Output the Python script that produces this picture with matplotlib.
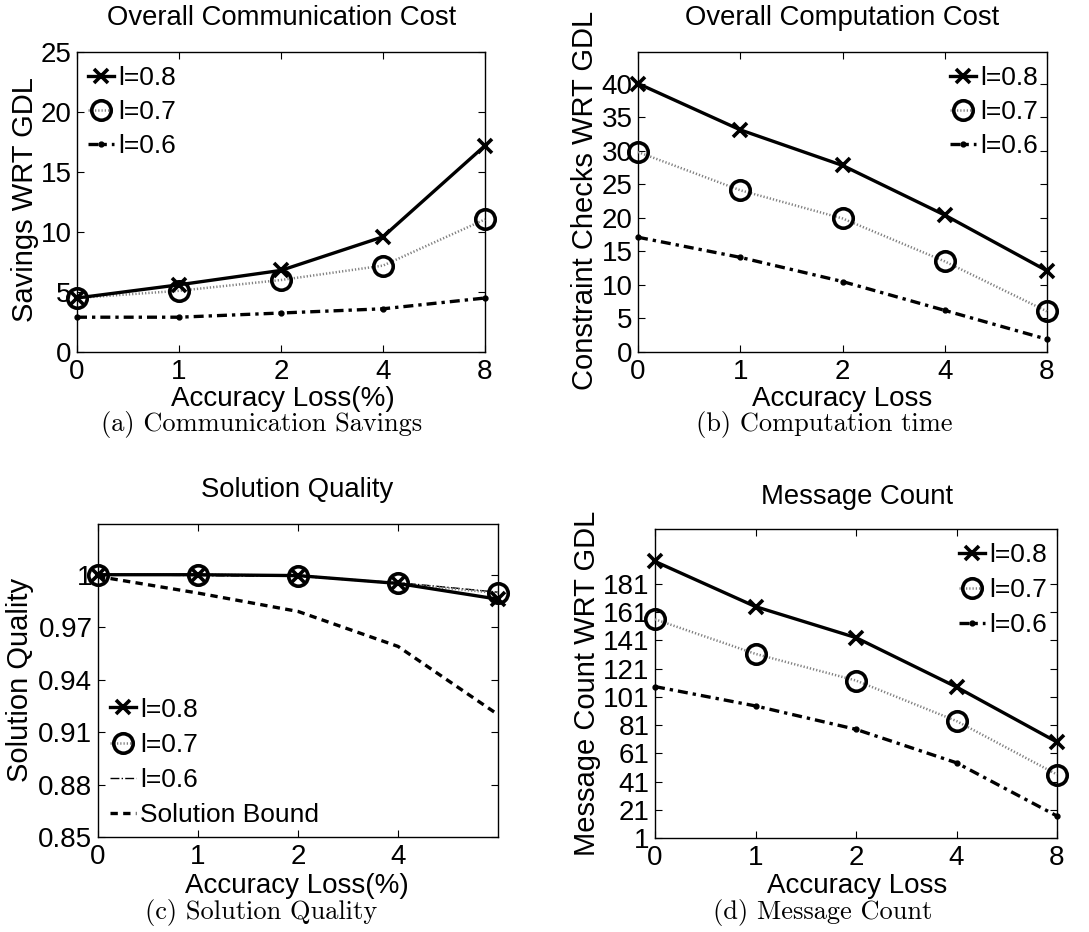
import matplotlib
matplotlib.use("Agg")
import matplotlib.pyplot as plt

W, H = 1089, 932
SANS = "Liberation Sans"

# shared x categories (accuracy loss)
x_pos = [0, 1, 2, 4, 8]
x_idx = list(range(len(x_pos)))

# (a) communication savings
comm_08 = [4.5, 5.6, 6.8, 9.6, 17.2]
comm_07 = [4.5, 5.1, 6.0, 7.2, 11.05]
comm_06 = [2.9, 2.9, 3.25, 3.6, 4.5]

# (b) constraint checks
comp_08 = [40.0, 33.1, 27.8, 20.4, 12.1]
comp_07 = [29.8, 24.1, 19.9, 13.5, 6.05]
comp_06 = [17.1, 14.1, 10.5, 6.2, 1.9]

# (c) solution quality
qual_08 = [1.0, 1.0, 0.9995, 0.995, 0.986]
qual_07 = [1.0, 1.0, 0.9995, 0.995, 0.9895]
qual_06 = [1.0, 0.9995, 0.999, 0.9955, 0.990]
qual_bound = [0.999, 0.9895, 0.979, 0.959, 0.920]

# (d) message count
msg_08 = [197, 165, 143, 108, 69]
msg_07 = [156, 131.5, 112.6, 83.9, 46]
msg_06 = [108.3, 94.6, 78, 54.3, 16.6]

fig = plt.figure(figsize=(W / 100, H / 100), dpi=100)
fig.patch.set_facecolor("white")


def px_axes(l, r, t, b):
    return fig.add_axes([l / W, (H - b) / H, (r - l) / W, (b - t) / H])


def style(ax):
    ax.tick_params(direction="in", length=5, width=0.8, top=True, right=True,
                   labelsize=20)
    ax.tick_params(axis="x", pad=5)
    ax.tick_params(axis="y", pad=4)
    for lab in ax.get_xticklabels() + ax.get_yticklabels():
        lab.set_fontfamily(SANS)
    for s in ax.spines.values():
        s.set_linewidth(1.0)


def three_lines(ax, y8, y7, y6, thin6=False):
    ax.plot(x_idx, y8, color="black", lw=2.4, marker="x", ms=10, mew=2.6,
            label="l=0.8", clip_on=False, zorder=4)
    ax.plot(x_idx, y7, color="0.5", lw=1.8, ls=(0, (0.5, 0.8)), marker="o",
            ms=14, mew=2.6, mec="black", mfc="none", label="l=0.7",
            clip_on=False, zorder=3)
    if thin6:
        ax.plot(x_idx, y6, color="black", lw=1.0, ls="-.", label="l=0.6",
                clip_on=False, zorder=2)
    else:
        ax.plot(x_idx, y6, color="black", lw=2.4, ls=(0, (3, 1.5, 1, 1.5)),
                marker="o", ms=3.5, label="l=0.6", clip_on=False, zorder=2)


def legend(ax, loc, anchor, spacing=0.38):
    return ax.legend(loc=loc, bbox_to_anchor=anchor, frameon=False, numpoints=1,
                     handlelength=1.0, handletextpad=0.15, labelspacing=spacing,
                     borderaxespad=0.0, borderpad=0.0,
                     prop={"family": SANS, "size": 19})


def texts(cx_title, y_title, title, cx_xl, y_xl, xlabel, x_yl, cy_yl, ylabel,
          cx_cap, y_cap, cap):
    fig.text(cx_title / W, 1 - y_title / H, title, ha="center", va="center",
             fontsize=19.8, family=SANS)
    fig.text(cx_xl / W, 1 - y_xl / H, xlabel, ha="center", va="center",
             fontsize=20, family=SANS)
    fig.text(x_yl / W, 1 - cy_yl / H, ylabel, ha="center", va="center",
             fontsize=21, family=SANS, rotation=90)
    fig.text(cx_cap / W, 1 - y_cap / H, cap, ha="center", va="center",
             fontsize=19, fontname="cmr10")


# (a)
ax = px_axes(77, 485, 52, 352)
three_lines(ax, comm_08, comm_07, comm_06)
ax.set_xlim(0, 4)
ax.set_ylim(0, 25)
ax.set_xticks(x_idx)
ax.set_xticklabels([str(v) for v in x_pos])
ax.set_yticks([0, 5, 10, 15, 20, 25])
style(ax)
legend(ax, "upper left", (0.027, 0.952))
texts(282, 18, "Overall Communication Cost", 283, 399, "Accuracy Loss(%)",
      25, 200, "Savings WRT GDL", 262, 425, "(a) Communication Savings")

# (b)
ax = px_axes(638, 1047, 52, 352)
three_lines(ax, comp_08, comp_07, comp_06)
ax.set_xlim(0, 4)
ax.set_ylim(0, 44.7)
ax.set_xticks(x_idx)
ax.set_xticklabels([str(v) for v in x_pos])
ax.set_yticks([0, 5, 10, 15, 20, 25, 30, 35, 40])
style(ax)
legend(ax, "upper right", (0.978, 0.952))
texts(842, 18, "Overall Computation Cost", 842, 399, "Accuracy Loss",
      585, 200, "Constraint Checks WRT GDL", 824, 425, "(b) Computation time")

# (c)
ax = px_axes(98, 498, 524, 837)
three_lines(ax, qual_08, qual_07, qual_06, thin6=True)
ax.plot(x_idx, qual_bound, color="black", lw=2.4, ls=(0, (2.2, 1.6)),
        label="Solution Bound", clip_on=False, zorder=1)
ax.set_xlim(0, 4)
ax.set_ylim(0.85, 1.029)
ax.set_xticks(x_idx[:4])
ax.set_xticklabels([str(v) for v in x_pos[:4]])
ax.set_yticks([0.85, 0.88, 0.91, 0.94, 0.97, 1.0])
ax.set_yticklabels(["0.85", "0.88", "0.91", "0.94", "0.97", "1"])
style(ax)
legend(ax, "lower left", (0.03, 0.032), spacing=0.42)
texts(297, 490, "Solution Quality", 297, 886, "Accuracy Loss(%)",
      20, 680, "Solution Quality", 261, 913, "(c) Solution Quality")

# (d)
ax = px_axes(655, 1057, 529, 838)
three_lines(ax, msg_08, msg_07, msg_06)
ax.set_xlim(0, 4)
ax.set_ylim(1, 220)
ax.set_xticks(x_idx)
ax.set_xticklabels([str(v) for v in x_pos])
ax.set_yticks(list(range(1, 182, 20)))
style(ax)
legend(ax, "upper right", (0.975, 0.955), spacing=0.42)
texts(857, 497, "Message Count", 857, 886, "Accuracy Loss",
      587, 683, "Message Count WRT GDL", 823, 913, "(d) Message Count")

fig.savefig("out.png", dpi=100, facecolor="white")
